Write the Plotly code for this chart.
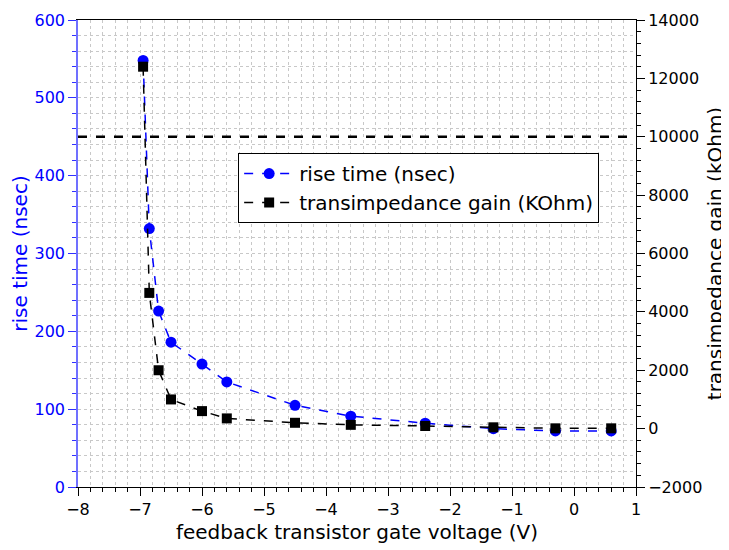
import plotly.graph_objects as go

voltage = [-6.95, -6.85, -6.7, -6.5, -6.0, -5.6, -4.5, -3.6, -2.4, -1.3, -0.3, 0.6]
rise_time = [548, 332, 226, 186, 158, 135, 105, 91, 82, 75, 72, 72]
gain = [12400, 4650, 2000, 1000, 600, 350, 200, 130, 90, 45, 10, 10]
threshold_gain = 10000

FONT = "DejaVu Sans"
BLUE = "#0000ff"

fig = go.Figure()
fig.add_trace(go.Scatter(
    x=voltage, y=rise_time, name="rise time (nsec)", mode="lines+markers",
    line=dict(color=BLUE, dash="dash", width=1.5),
    marker=dict(symbol="circle", size=11, color=BLUE),
    yaxis="y"))
fig.add_trace(go.Scatter(
    x=voltage, y=gain, name="transimpedance gain (KOhm)", mode="lines+markers",
    line=dict(color="black", dash="dash", width=1.5),
    marker=dict(symbol="square", size=10, color="black"),
    yaxis="y2"))

fig.add_shape(type="line", xref="x domain", x0=0, x1=1, yref="y2",
              y0=threshold_gain, y1=threshold_gain,
              line=dict(color="black", dash="dash", width=2.5))

grid = dict(showgrid=True, gridcolor="#c8c8c8", griddash="dot", gridwidth=1)

fig.update_layout(
    width=729, height=550,
    margin=dict(l=70, r=101, t=12, b=71),
    paper_bgcolor="white", plot_bgcolor="white",
    font=dict(family=FONT, size=16, color="black"),
    showlegend=True,
    legend=dict(x=0.287, y=0.715, xanchor="left", yanchor="top",
                bgcolor="white", bordercolor="black", borderwidth=1,
                itemwidth=50,
                font=dict(size=20, family=FONT), tracegroupgap=0),
    xaxis=dict(range=[-8, 1], dtick=1, tick0=-8, automargin=False,
               showline=True, linecolor="black", linewidth=1, mirror=True,
               ticks="outside", ticklen=8, tickcolor="black",
               zeroline=False,
               title=dict(text="feedback transistor gate voltage (V)", font=dict(size=20), standoff=6),
               minor=dict(dtick=0.2, ticks="outside", ticklen=4, tickcolor="black", **grid),
               **grid),
    yaxis=dict(range=[0, 600], dtick=100, automargin=False,
               showline=True, linecolor="#7070ff", linewidth=1.5,
               ticks="outside", ticklen=8, tickcolor="#3030ff",
               tickfont=dict(color=BLUE, size=16),
               zeroline=False,
               title=dict(text="rise time (nsec)", font=dict(color=BLUE, size=20), standoff=6),
               minor=dict(dtick=20, ticks="outside", ticklen=4, tickcolor="#3030ff", **grid),
               **grid),
    yaxis2=dict(range=[-2000, 14000], dtick=2000, overlaying="y", side="right",
                automargin=False, tickformat="d",
                showline=True, linecolor="black", linewidth=1,
                ticks="outside", ticklen=8, tickcolor="black",
                showgrid=False, zeroline=False,
                tickfont=dict(size=16),
                title=dict(text="transimpedance gain (kOhm)", font=dict(size=20), standoff=6),
                minor=dict(dtick=400, ticks="outside", ticklen=4, tickcolor="black", showgrid=False)),
)

fig.write_html("out.html")
